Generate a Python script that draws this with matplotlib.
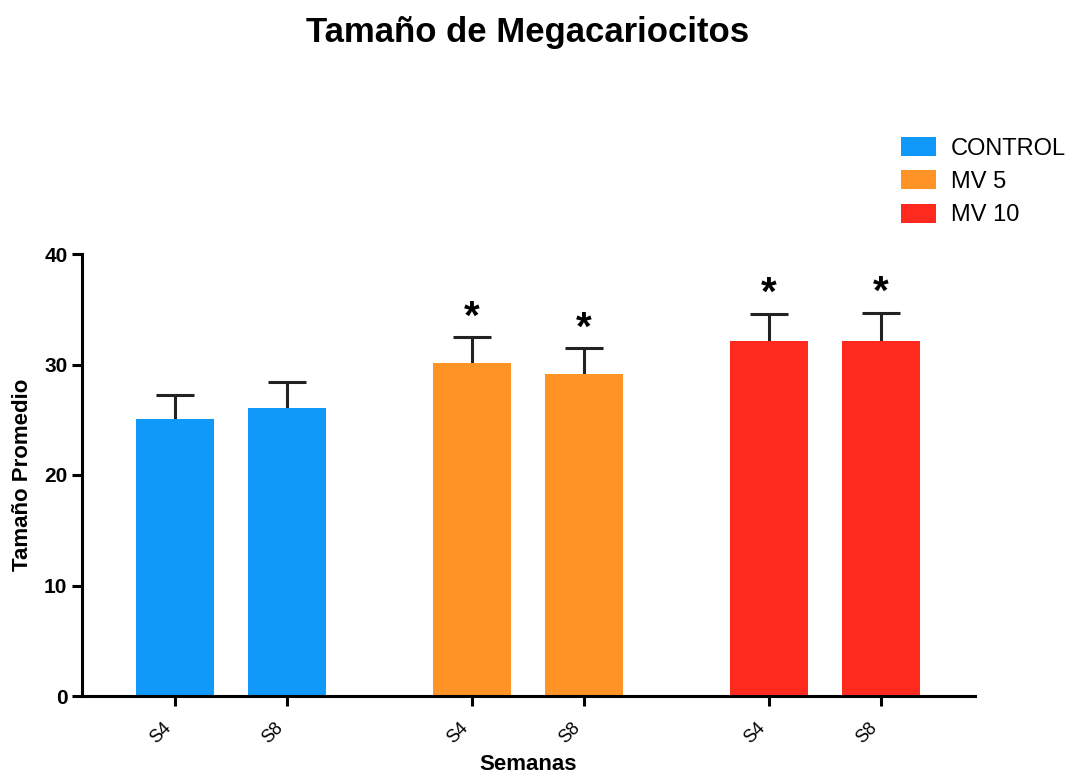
import numpy as np
import matplotlib
matplotlib.use("Agg")
import matplotlib.pyplot as plt
from matplotlib.patches import Patch

plt.rcParams['font.family'] = ['Liberation Sans', 'DejaVu Sans']

# Data
groups = ["CONTROL", "MV 5", "MV 10"]
weeks = ["S4", "S8"]
means = [25.1, 26.1, 30.1, 29.1, 32.1, 32.1]
errors = [2.1, 2.3, 2.4, 2.4, 2.5, 2.6]
significant = [False, False, True, True, True, True]
colors = ["#1199F9", "#FF9326", "#FF2A1E"]

positions = [0, 1, 2.65, 3.65, 5.3, 6.3]
bar_colors = [colors[i // 2] for i in range(len(means))]
tick_labels = weeks * len(groups)

fig = plt.figure(figsize=(10.7, 7.78), dpi=100)
ax = fig.add_axes([82 / 1070, 1 - 696 / 778, (975 - 82) / 1070, (696 - 254) / 778])

# error bars behind the bars so only the upper half shows
ax.errorbar(positions, means, yerr=errors, fmt="none",
            ecolor="#222222", elinewidth=2.2, capsize=14, capthick=2.2, zorder=1)
ax.bar(positions, means, width=0.7, color=bar_colors, zorder=2)

for x, m, e, s in zip(positions, means, errors, significant):
    if s:
        ax.text(x, m + e + 0.05, "*", ha="center", va="bottom", fontsize=29,
                fontweight="bold", color="black")

ax.set_xlim(-0.83, 7.14)
ax.set_ylim(0, 40)
ax.set_yticks([0, 10, 20, 30, 40])
ax.set_xticks(positions)
ax.set_xticklabels(tick_labels, rotation=45, ha="right", fontsize=13)

for side in ["top", "right"]:
    ax.spines[side].set_visible(False)
for side in ["left", "bottom"]:
    ax.spines[side].set_linewidth(2.2)
ax.tick_params(axis="both", width=2.2, length=7, direction="out")
ax.tick_params(axis="x", pad=10)
for lbl in ax.get_yticklabels():
    lbl.set_fontweight("bold")
    lbl.set_fontsize(15)

ax.set_ylabel("Tamaño Promedio", fontsize=16, fontweight="bold", labelpad=8)
ax.set_xlabel("Semanas", fontsize=16, fontweight="bold", labelpad=5)

fig.text(0.493, 0.958, "Tamaño de Megacariocitos", ha="center", va="center",
         fontsize=25, fontweight="bold")

handles = [Patch(facecolor=c, label=g) for c, g in zip(colors, groups)]
fig.legend(handles=handles, loc="upper left", bbox_to_anchor=(901 / 1070, 1 - 137 / 778),
           frameon=False, fontsize=17, handlelength=1.5, handleheight=0.85,
           labelspacing=0.46, handletextpad=0.6, borderpad=0, borderaxespad=0)

fig.savefig("out.png", dpi=100)
